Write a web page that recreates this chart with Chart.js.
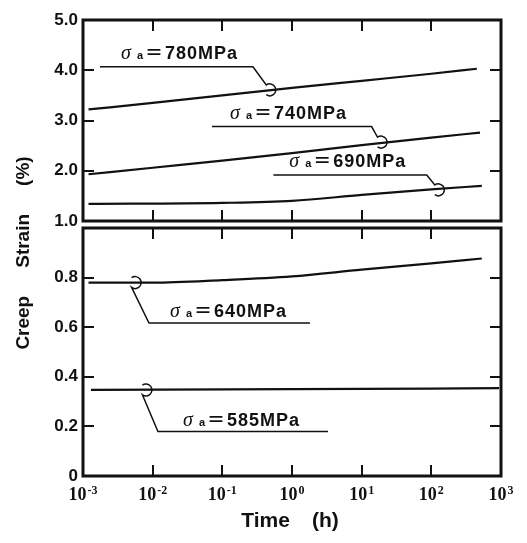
<!DOCTYPE html>
<html>
<head>
<meta charset="utf-8">
<title>Creep Strain - Time</title>
<script src="https://cdn.jsdelivr.net/npm/chart.js@4.4.1/dist/chart.umd.min.js"></script>
<style>
    body { margin: 0; background: #fff; }
    #wrap { position: relative; width: 527px; height: 543px; }
    #wrap canvas { position: absolute; left: 0; top: 0; }
</style>
</head>
<body>
<div id="wrap">
    <canvas id="upper-chart" width="527" height="543"></canvas>
    <canvas id="lower-chart" width="527" height="543"></canvas>
</div>
<script>
// 时间轴（对数）与应变刻度
const decades = [1e-3, 1e-2, 1e-1, 1, 10, 100, 1000];
const decadeExps = ['-3', '-2', '-1', '0', '1', '2', '3'];
const upperStrainTicks = [1, 2, 3, 4, 5];
const lowerStrainTicks = [0, 0.2, 0.4, 0.6, 0.8, 1];

// 各应力下的蠕变曲线 (h, %)
const time780 = [0.0012, 0.01, 0.1, 1, 10, 100, 450];
const strain780 = [3.22, 3.35, 3.50, 3.65, 3.79, 3.93, 4.03];
const time740 = [0.0012, 0.01, 0.1, 1, 10, 100, 500];
const strain740 = [1.93, 2.06, 2.20, 2.35, 2.51, 2.66, 2.76];
const time690 = [0.0012, 0.1, 1, 10, 100, 530];
const strain690 = [1.34, 1.36, 1.40, 1.52, 1.63, 1.70];
const time640 = [0.0012, 0.01, 0.1, 1, 10, 100, 530];
const strain640 = [0.78, 0.78, 0.79, 0.805, 0.832, 0.857, 0.877];
const time585 = [0.0013, 1, 940];
const strain585 = [0.347, 0.350, 0.354];

// 曲线标注（数据坐标）
const noteStress = ['780', '740', '690', '640', '585'];
const notePanel = ['upper', 'upper', 'upper', 'lower', 'lower'];
const noteHookTime = [0.48, 19, 126, 0.0056, 0.008];
const noteHookStrain = [3.61, 2.57, 1.62, 0.78, 0.347];
const noteLineStrain = [4.07, 2.88, 1.915, 0.617, 0.179];
const noteLineFrom = [0.00175, 0.071, 0.54, 0.00885, 0.0119];
const noteLineTo = [0.275, 13.9, 86, 1.81, 3.29];
const noteTextTime = [0.0035, 0.129, 0.91, 0.0177, 0.0272];
const noteTextStrain = [4.22, 3.03, 2.08, 0.642, 0.202];

const ink = '#111';
const sans = '"Liberation Sans", Arial, Helvetica, sans-serif';
const serif = '"Liberation Serif", "Times New Roman", serif';

function curve(times, strains) {
    return {
        data: times.map((t, i) => ({ x: t, y: strains[i] })),
        borderColor: ink,
        borderWidth: 2.2,
        pointRadius: 0,
        fill: false,
        cubicInterpolationMode: 'monotone'
    };
}

// 标注：引线 + 钩 + σa=xxxMPa
function drawNote(ctx, xs, ys, i) {
    const hx = xs.getPixelForValue(noteHookTime[i]);
    const hy = ys.getPixelForValue(noteHookStrain[i]);
    const ly = ys.getPixelForValue(noteLineStrain[i]);
    const lx0 = xs.getPixelForValue(noteLineFrom[i]);
    const lx1 = xs.getPixelForValue(noteLineTo[i]);
    const r = 6, ang = 2.2;

    ctx.lineWidth = 1.5;
    ctx.beginPath();
    if (ly < hy) {
        ctx.moveTo(lx0, ly);
        ctx.lineTo(lx1, ly);
        ctx.lineTo(hx + r * Math.cos(-ang), hy + r * Math.sin(-ang));
        ctx.arc(hx, hy, r, -ang, ang);
    } else {
        ctx.arc(hx, hy, r, -ang, ang);
        ctx.lineTo(lx0, ly);
        ctx.lineTo(lx1, ly);
    }
    ctx.stroke();

    const tx = xs.getPixelForValue(noteTextTime[i]);
    const ty = ys.getPixelForValue(noteTextStrain[i]);
    ctx.fillStyle = ink;
    ctx.textAlign = 'left';
    ctx.textBaseline = 'alphabetic';
    ctx.font = 'italic 20px ' + serif;
    ctx.fillText('σ', tx, ty);
    ctx.font = 'bold 11px ' + sans;
    ctx.fillText('a', tx + 16, ty);
    ctx.font = 'bold 18px "Noto Sans CJK JP", ' + sans;
    ctx.fillText('＝', tx + 24, ty);
    ctx.font = 'bold 18px ' + sans;
    ctx.letterSpacing = '1px';
    ctx.fillText(noteStress[i] + 'MPa', tx + 44, ty);
    ctx.letterSpacing = '0px';
}

function drawTimeAxis(ctx, xs, a) {
    ctx.fillStyle = ink;
    ctx.textAlign = 'left';
    ctx.textBaseline = 'alphabetic';
    decades.forEach((v, i) => {
        const px = xs.getPixelForValue(v);
        ctx.font = 'bold 18px ' + serif;
        const wBase = ctx.measureText('10').width;
        ctx.font = 'bold 12px ' + serif;
        const wExp = ctx.measureText(decadeExps[i]).width;
        const x0 = px - (wBase + 1 + wExp) / 2;
        ctx.font = 'bold 18px ' + serif;
        ctx.fillText('10', x0, a.bottom + 24);
        ctx.font = 'bold 12px ' + serif;
        ctx.fillText(decadeExps[i], x0 + wBase + 1, a.bottom + 18);
    });

    ctx.font = 'bold 21px ' + sans;
    const w1 = ctx.measureText('Time').width;
    const w2 = ctx.measureText('(h)').width;
    const gap = 22;
    const x0 = (a.left + a.right) / 2 - 2 - (w1 + gap + w2) / 2;
    ctx.fillText('Time', x0, 527);
    ctx.fillText('(h)', x0 + w1 + gap, 527);
}

function drawStrainTitle(ctx) {
    const parts = ['Creep', 'Strain', '(%)'];
    const gap = 28;
    ctx.save();
    ctx.translate(29, 253);
    ctx.rotate(-Math.PI / 2);
    ctx.fillStyle = ink;
    ctx.textAlign = 'left';
    ctx.textBaseline = 'alphabetic';
    ctx.font = 'bold 19px ' + sans;
    const widths = parts.map(p => ctx.measureText(p).width);
    const total = widths.reduce((s, w) => s + w, 0) + gap * (parts.length - 1);
    let x = -total / 2;
    parts.forEach((p, i) => {
        ctx.fillText(p, x, 0);
        x += widths[i] + gap;
    });
    ctx.restore();
}

// 边框、内向刻度、标注
function makeFramePlugin(panel, strainTicks) {
    return {
        id: 'frame-' + panel,
        afterDatasetsDraw(chart) {
            const { ctx, chartArea: a } = chart;
            const xs = chart.scales.x;
            const ys = chart.scales.y;
            ctx.save();
            ctx.strokeStyle = ink;
            ctx.lineWidth = 2;
            ctx.beginPath();
            decades.slice(1, -1).forEach(v => {
                const px = Math.round(xs.getPixelForValue(v));
                ctx.moveTo(px, a.top);
                ctx.lineTo(px, a.top + 11);
                ctx.moveTo(px, a.bottom);
                ctx.lineTo(px, a.bottom - 11);
            });
            strainTicks.slice(1, -1).forEach(v => {
                const py = Math.round(ys.getPixelForValue(v));
                ctx.moveTo(a.left, py);
                ctx.lineTo(a.left + 11, py);
                ctx.moveTo(a.right, py);
                ctx.lineTo(a.right - 11, py);
            });
            ctx.stroke();
            ctx.lineWidth = 3;
            ctx.strokeRect(a.left, a.top, a.right - a.left, a.bottom - a.top);

            noteStress.forEach((s, i) => {
                if (notePanel[i] === panel) drawNote(ctx, xs, ys, i);
            });
            if (panel === 'lower') drawTimeAxis(ctx, xs, a);
            else drawStrainTitle(ctx);
            ctx.restore();
        }
    };
}

function panelOptions(cfg) {
    return {
        responsive: false,
        animation: false,
        devicePixelRatio: 1,
        layout: { padding: { top: cfg.top, bottom: cfg.bottom, left: 0, right: 26 } },
        plugins: { legend: { display: false }, tooltip: { enabled: false } },
        scales: {
            x: { type: 'logarithmic', display: false, min: 1e-3, max: 1e3 },
            y: {
                min: cfg.min,
                max: cfg.max,
                grid: { display: false, drawTicks: false },
                border: { display: false },
                ticks: {
                    stepSize: cfg.step,
                    padding: 5,
                    color: ink,
                    font: { family: sans, size: 17, weight: 'bold' },
                    callback: cfg.label
                },
                afterFit(scale) { scale.width = 83; }
            }
        }
    };
}

new Chart(document.getElementById('upper-chart'), {
    type: 'line',
    data: { datasets: [curve(time780, strain780), curve(time740, strain740), curve(time690, strain690)] },
    options: panelOptions({
        top: 20, bottom: 322, min: upperStrainTicks[0], max: upperStrainTicks[upperStrainTicks.length - 1], step: 1,
        label: v => v.toFixed(1)
    }),
    plugins: [makeFramePlugin('upper', upperStrainTicks)]
});

new Chart(document.getElementById('lower-chart'), {
    type: 'line',
    data: { datasets: [curve(time640, strain640), curve(time585, strain585)] },
    options: panelOptions({
        top: 228, bottom: 67, min: lowerStrainTicks[0], max: lowerStrainTicks[lowerStrainTicks.length - 1], step: 0.2,
        label: v => (Math.abs(v - 1) < 1e-9 ? '' : v === 0 ? '0' : v.toFixed(1))
    }),
    plugins: [makeFramePlugin('lower', lowerStrainTicks)]
});
</script>
</body>
</html>
